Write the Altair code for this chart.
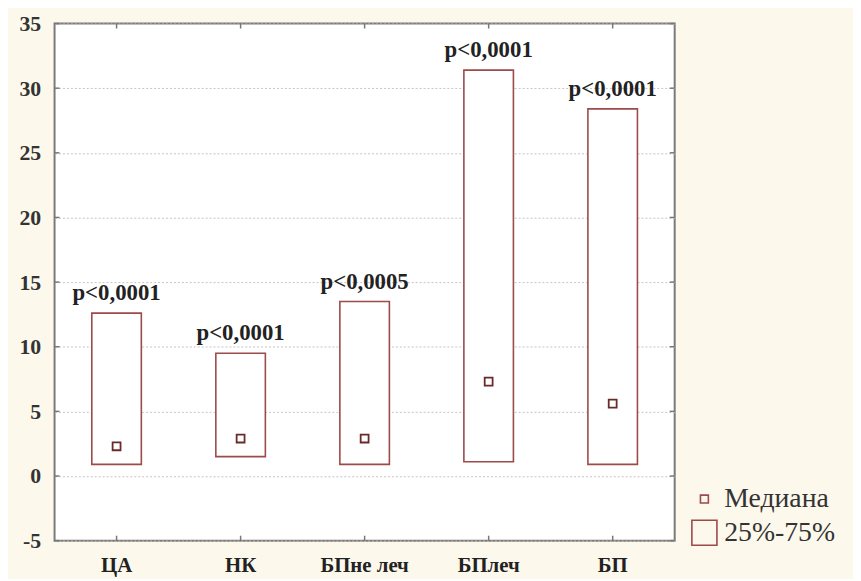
import altair as alt
import pandas as pd

cats = ["ЦА", "НК", "БПне леч", "БПлеч", "БП"]
q25 = [0.9, 1.5, 0.9, 1.1, 0.9]
q75 = [12.6, 9.5, 13.5, 31.4, 28.4]
med = [2.3, 2.9, 2.9, 7.3, 5.6]
plab = ["p<0,0001", "p<0,0001", "p<0,0005", "p<0,0001", "p<0,0001"]
yticks = [-5, 0, 5, 10, 15, 20, 25, 30, 35]
legend_labels = ["Медиана", "25%-75%"]

W, H = 626, 522
SERIF = "Liberation Serif"

df = pd.DataFrame({"cat": cats, "q25": q25, "q75": q75, "med": med,
                   "p": plab, "lab": legend_labels[0]})
dt = pd.DataFrame({"v": yticks})

xs = alt.Scale(domain=cats, paddingInner=0, paddingOuter=0)
ys = alt.Scale(domain=[-5, 35], nice=False, zero=False)

x_enc = alt.X("cat:N", scale=xs, sort=cats, title=None,
              axis=alt.Axis(labelFont=SERIF, labelFontSize=21, labelFontWeight="bold",
                            labelColor="#222", labelAngle=0, tickSize=0, domain=False,
                            labelPadding=14, grid=False))
y_enc = alt.Y("q25:Q", scale=ys, title=None,
              axis=alt.Axis(values=yticks, labelExpr="'' + datum.value",
                            labelFont=SERIF, labelFontSize=22, labelFontWeight="bold",
                            labelColor="#333", tickSize=0, domain=False, labelPadding=14,
                            grid=True, gridColor="#c4c4c4", gridDash=[2, 2], gridWidth=1))

boxes = alt.Chart(df).mark_bar(size=50, fill="white", stroke="#9c4a4a", strokeWidth=1.6).encode(
    x=x_enc, y=y_enc, y2="q75:Q")

meds = alt.Chart(df).mark_point(shape="square", filled=False, color="#6a2a2a",
                                strokeWidth=1.8, opacity=1).encode(
    x=alt.X("cat:N", scale=xs, sort=cats),
    y=alt.Y("med:Q", scale=ys),
    size=alt.Size("lab:N", scale=alt.Scale(domain=legend_labels, range=[64, 640]),
                  legend=alt.Legend(title=None, orient="none", legendX=W + 16, legendY=H - 56,
                                    labelFont=SERIF, labelFontSize=28, labelColor="#333",
                                    symbolType="square", symbolStrokeColor="#9c4a4a",
                                    symbolFillColor="white", symbolStrokeWidth=1.6,
                                    rowPadding=4, labelOffset=6)))

texts = alt.Chart(df).mark_text(font=SERIF, fontSize=23, fontWeight="bold", color="#222",
                                baseline="alphabetic", dy=-13).encode(
    x=alt.X("cat:N", scale=xs, sort=cats),
    y=alt.Y("q75:Q", scale=ys),
    text="p:N")

tick_color = "#777"
lt = alt.Chart(dt).mark_rule(color=tick_color, strokeWidth=1.5).encode(
    y=alt.Y("v:Q", scale=ys), x=alt.value(0), x2=alt.value(5))
rt = alt.Chart(dt).mark_rule(color=tick_color, strokeWidth=1.5).encode(
    y=alt.Y("v:Q", scale=ys), x=alt.value(W - 5), x2=alt.value(W))
bt = alt.Chart(df).mark_rule(color=tick_color, strokeWidth=1.5).encode(
    x=alt.X("cat:N", scale=xs, sort=cats), y=alt.value(H - 5), y2=alt.value(H))
tt = alt.Chart(df).mark_rule(color=tick_color, strokeWidth=1.5).encode(
    x=alt.X("cat:N", scale=xs, sort=cats), y=alt.value(0), y2=alt.value(5))

chart = alt.layer(boxes, meds, texts, lt, rt, bt, tt).properties(
    width=W, height=H,
    background="#fdf8ec",
    autosize=alt.AutoSizeParams(type="none"),
    padding={"left": 47, "top": 13, "right": 180, "bottom": 36},
).configure_view(stroke="#7a7a7a", strokeWidth=2, fill="white")

chart.save("out.html", embed_options={"renderer": "svg", "actions": False})
